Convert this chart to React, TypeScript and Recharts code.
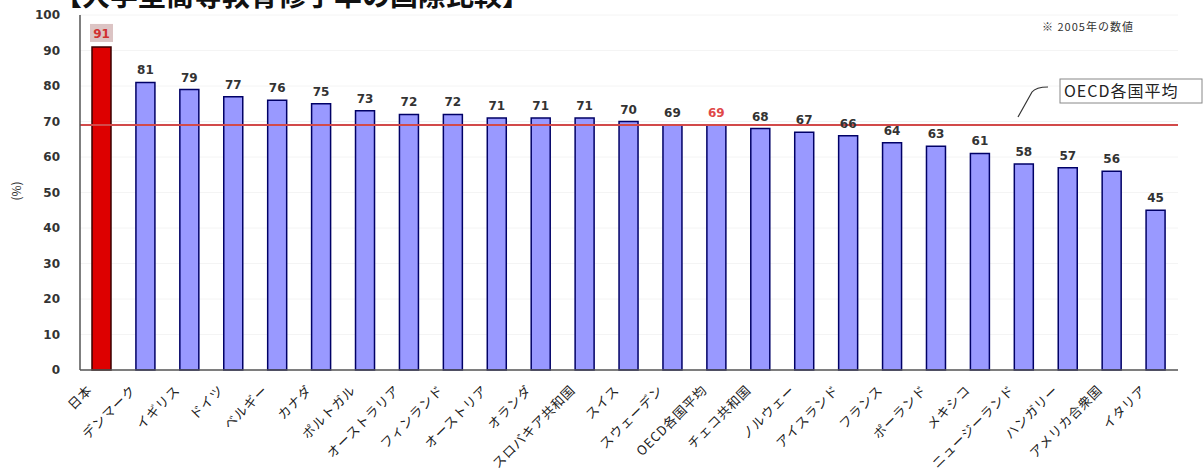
import React from 'react';
import {
  BarChart,
  Bar,
  Cell,
  XAxis,
  YAxis,
  CartesianGrid,
  ReferenceLine,
  LabelList,
} from 'recharts';

const countries = [
  '日本', 'デンマーク', 'イギリス', 'ドイツ', 'ベルギー', 'カナダ', 'ポルトガル',
  'オーストラリア', 'フィンランド', 'オーストリア', 'オランダ', 'スロバキア共和国',
  'スイス', 'スウェーデン', 'OECD各国平均', 'チェコ共和国', 'ノルウェー', 'アイスランド',
  'フランス', 'ポーランド', 'メキシコ', 'ニュージーランド', 'ハンガリー', 'アメリカ合衆国', 'イタリア',
];
const rates = [
  91, 81, 79, 77, 76, 75, 73, 72, 72, 71, 71, 71, 70, 69, 69, 68, 67, 66, 64, 63, 61, 58, 57, 56, 45,
];
const yTicks = [0, 10, 20, 30, 40, 50, 60, 70, 80, 90, 100];
const oecdAverage = 69;

const data = countries.map((name, i) => ({ name, value: rates[i] }));

const W = 1203;
const H = 471;
const NUM_FONT = '"DejaVu Sans", Verdana, sans-serif';
const JP_FONT = '"Noto Sans CJK JP", "Noto Sans", sans-serif';

const barFill = (name: string) => (name === '日本' ? '#dd0000' : '#9999ff');
const barStroke = (name: string) => (name === '日本' ? '#3a0000' : '#000066');

const CountryTick = (props: any) => {
  const { x, y, payload } = props;
  return (
    <g transform={`translate(${x},${y})`}>
      <text
        x={-9}
        y={21}
        textAnchor="end"
        transform="rotate(-45, -9, 21)"
        fontFamily={JP_FONT}
        fontSize={13}
        letterSpacing={0.8}
        fill="#222"
      >
        {payload.value}
      </text>
    </g>
  );
};

const ValueLabel = (props: any) => {
  const { x, y, width, value, index } = props;
  const name = countries[index];
  const cx = x + width / 2;
  if (name === '日本') {
    return (
      <g>
        <rect x={x - 2} y={y - 23} width={width + 4} height={18} fill="#dcc4c4" />
        <text x={cx} y={y - 9} textAnchor="middle" fontFamily={NUM_FONT} fontWeight="bold" fontSize={12} fill="#d03030">
          {value}
        </text>
      </g>
    );
  }
  const color = name === 'OECD各国平均' ? '#e04848' : '#333';
  return (
    <text x={cx} y={y - 8} textAnchor="middle" fontFamily={NUM_FONT} fontWeight="bold" fontSize={12} fill={color}>
      {value}
    </text>
  );
};

export default function App() {
  return (
    <div style={{ position: 'absolute', left: 0, top: 0, width: W, height: H, background: '#fff' }}>
      <BarChart
        width={W}
        height={H}
        data={data}
        margin={{ top: 15, right: 25, bottom: 0, left: 12 }}
      >
        <CartesianGrid vertical={false} stroke="#f4f4f4" />
        <XAxis
          dataKey="name"
          interval={0}
          height={101}
          tickLine={false}
          tickSize={0}
          tickMargin={0}
          axisLine={{ stroke: '#555', strokeWidth: 1.5 }}
          tick={<CountryTick />}
        />
        <XAxis xAxisId="top" orientation="top" dataKey="name" height={0} tick={false} tickLine={false} axisLine={{ stroke: '#999' }} />
        <YAxis
          domain={[0, 100]}
          ticks={yTicks}
          width={68}
          tickLine={false}
          tickMargin={14}
          axisLine={{ stroke: '#555', strokeWidth: 1.5 }}
          tick={{ fontFamily: NUM_FONT, fontWeight: 'bold', fontSize: 12, fill: '#333' }}
          label={{ value: '(%)', angle: -90, position: 'insideLeft', offset: 5, dy: 8, fontFamily: JP_FONT, fontSize: 12, fill: '#333' }}
        />
        <YAxis yAxisId="right" orientation="right" domain={[0, 100]} width={0} tick={false} tickLine={false} axisLine={{ stroke: '#999' }} />
        <ReferenceLine y={oecdAverage} stroke="#d24a4a" strokeWidth={2} />
        <Bar dataKey="value" barSize={19} strokeWidth={1.5} isAnimationActive={false}>
          {data.map((d) => (
            <Cell key={d.name} fill={barFill(d.name)} stroke={barStroke(d.name)} />
          ))}
          <LabelList dataKey="value" content={<ValueLabel />} />
        </Bar>
      </BarChart>
      <svg width={W} height={H} style={{ position: 'absolute', left: 0, top: 0, pointerEvents: 'none' }}>
        <text x={54} y={6} fontFamily={JP_FONT} fontWeight="bold" fontSize={28} fill="#111">
          【大学型高等教育修了率の国際比較】
        </text>
        <text x={1088} y={31} textAnchor="middle" fontFamily={JP_FONT} fontSize={11} letterSpacing={1} fill="#333">
          ※ 2005年の数値
        </text>
        <path d="M1018,117 L1032,92 Q1036,87 1048,87" fill="none" stroke="#333" strokeWidth={1.2} />
        <rect x={1060} y={79} width={142} height={24} fill="#fff" stroke="#888" />
        <text x={1064} y={97} fontFamily={JP_FONT} fontSize={16} letterSpacing={1} fill="#222">
          OECD各国平均
        </text>
      </svg>
    </div>
  );
}
